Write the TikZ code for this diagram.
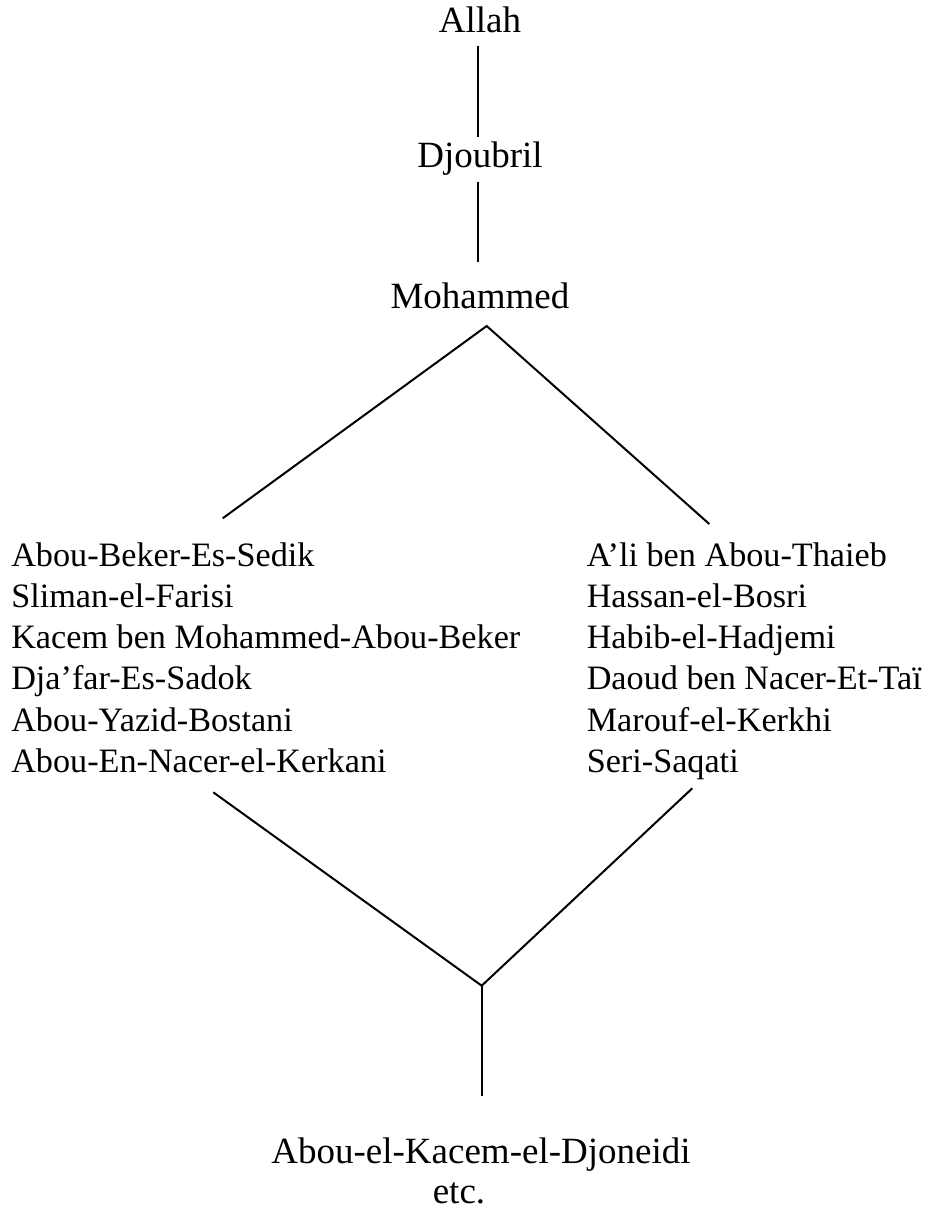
\documentclass[tikz,border=0pt]{standalone}
\usepackage{fontspec}
\setmainfont{Liberation Serif}
\begin{document}
\begin{tikzpicture}[x=0.75pt,y=-0.75pt,
  big/.style={inner sep=0pt,anchor=base,font=\fontsize{27.75pt}{33pt}\selectfont},
  lst/.style={inner sep=0pt,anchor=base west,font=\fontsize{25.65pt}{31pt}\selectfont},
  link/.style={line width=1.5pt}]
\useasboundingbox (0,0) rectangle (930,1209);
% main names
\node[big] (allah) at (480,33) {Allah};
\node[big] (djoubril) at (480,167) {Djoubril};
\node[big] (mohammed) at (480,308) {Mohammed};
% left chain
\node[lst] (l1) at (11,566) {Abou-Beker-Es-Sedik};
\node[lst] (l2) at (11,607.3) {Sliman-el-Farisi};
\node[lst] (l3) at (11,648.6) {Kacem ben Mohammed-Abou-Beker};
\node[lst] (l4) at (11,689.9) {Dja’far-Es-Sadok};
\node[lst] (l5) at (11,731.2) {Abou-Yazid-Bostani};
\node[lst] (l6) at (11,772.5) {Abou-En-Nacer-el-Kerkani};
% right chain
\node[lst] (r1) at (586.5,566) {A’li ben Abou-Thaieb};
\node[lst] (r2) at (586.5,607.3) {Hassan-el-Bosri};
\node[lst] (r3) at (586.5,648.6) {Habib-el-Hadjemi};
\node[lst] (r4) at (586.5,689.9) {Daoud ben Nacer-Et-Taï};
\node[lst] (r5) at (586.5,731.2) {Marouf-el-Kerkhi};
\node[lst] (r6) at (586.5,772.5) {Seri-Saqati};
% bottom
\node[big] (djoneidi) at (481,1163) {Abou-el-Kacem-el-Djoneidi};
\node[big] (etc) at (459,1203) {etc.};
% connector end points
\coordinate (a1) at (478,45.7);
\coordinate (a2) at (478,136.7);
\coordinate (b1) at (478,181.7);
\coordinate (b2) at (478,261.7);
\coordinate (apex) at (486.7,326);
\coordinate (lend) at (222.7,518.3);
\coordinate (rend) at (709.3,524);
\coordinate (ltop) at (213.3,792.3);
\coordinate (rtop) at (692.3,788.3);
\coordinate (join) at (481.7,985.7);
\coordinate (vend) at (481.7,1096);
% connectors
\draw[link] (a1) -- (a2);
\draw[link] (b1) -- (b2);
\draw[link] (lend) -- (apex) -- (rend);
\draw[link] (ltop) -- (join) -- (rtop);
\draw[link] (join) -- (vend);
\end{tikzpicture}
\end{document}
